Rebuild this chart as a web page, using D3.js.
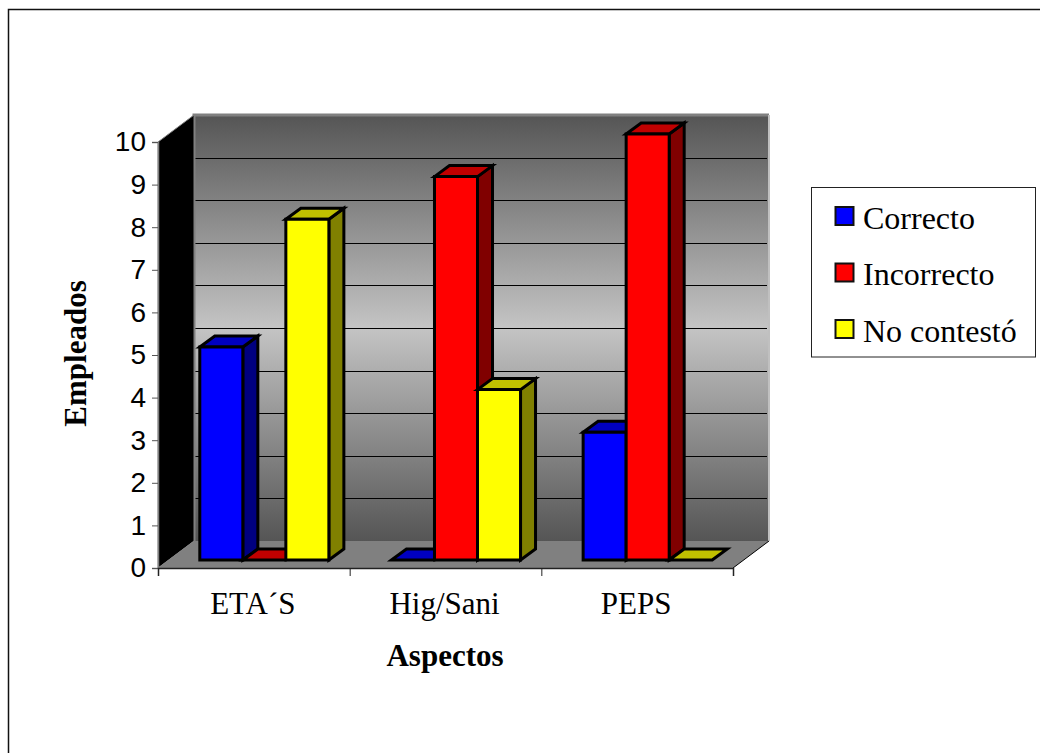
<!doctype html>
<html>
  <head>
    <meta charset="utf-8">
    <title>Aspectos</title>
    <script src="https://d3js.org/d3.v7.min.js"></script>
    <style>
      html, body { margin: 0; padding: 0; background: #fff; }
      svg { display: block; }
      .serif { font-family: "Liberation Serif", serif; fill: #000; }
      .tick text { font-family: "Liberation Sans", sans-serif; font-size: 28px; fill: #000; }
    </style>
  </head>
  <body>
    <script>
      const categories = ['ETA´S', 'Hig/Sani', 'PEPS'];
      const seriesNames = ['Correcto', 'Incorrecto', 'No contestó'];
      const correcto = [5, 0, 3];
      const incorrecto = [0, 9, 10];
      const noContesto = [8, 4, 0];
      const yTicks = [0, 1, 2, 3, 4, 5, 6, 7, 8, 9, 10];

      const seriesValues = [correcto, incorrecto, noContesto];
      // front, top, side
      const colors = [
        ['#0000ff', '#0000c0', '#000080'],
        ['#ff0000', '#c00000', '#800000'],
        ['#ffff00', '#c0c000', '#808000']
      ];

      const svgWidth = 1040;
      const svgHeight = 753;

      const svg = d3.select('body').append('svg')
          .attr('width', svgWidth)
          .attr('height', svgHeight);

      // marco exterior
      svg.append('path')
          .attr('d', `M8.5,${svgHeight} V9.5 H${svgWidth}`)
          .attr('fill', 'none')
          .attr('stroke', '#111')
          .attr('stroke-width', 1.5);

      const x0 = d3.scaleBand().domain(d3.range(categories.length)).range([158, 733]);
      const y = d3.scaleLinear().domain([0, 10]).range([568, 142]);
      const xInner = d3.scaleBand().domain(d3.range(seriesNames.length))
          .range([31.3, x0.bandwidth() - 31.3]);

      // profundidad del 3D
      const wallDx = 36, wallDy = -27;
      const barOffX = 10.5, barOffY = -8;
      const barDx = 15, barDy = -11;

      const defs = svg.append('defs');
      const grad = defs.append('linearGradient')
          .attr('id', 'wall')
          .attr('x1', 0).attr('y1', 0).attr('x2', 0).attr('y2', 1);
      grad.append('stop').attr('offset', '0%').attr('stop-color', '#555555');
      grad.append('stop').attr('offset', '50%').attr('stop-color', '#c4c4c4');
      grad.append('stop').attr('offset', '100%').attr('stop-color', '#555555');

      const poly = pts => 'M' + pts.map(p => p.join(',')).join('L') + 'Z';
      const left = x0.range()[0], right = x0.range()[1];
      const y0 = y(0), y10 = y(10);

      // pared de fondo
      svg.append('rect')
          .attr('x', left + wallDx)
          .attr('y', y10 + wallDy)
          .attr('width', right - left)
          .attr('height', y0 - y10)
          .attr('fill', 'url(#wall)');

      // rejilla
      svg.append('g').selectAll('line')
        .data(yTicks.slice(1, -1))
        .enter().append('line')
          .attr('x1', left + wallDx)
          .attr('x2', right + wallDx - 2)
          .attr('y1', d => Math.round(y(d) + wallDy) + 0.5)
          .attr('y2', d => Math.round(y(d) + wallDy) + 0.5)
          .attr('stroke', '#000')
          .attr('stroke-width', 1);

      // bordes de la pared
      svg.append('path')
          .attr('d', `M${left + wallDx},${y0 + wallDy} V${y10 + wallDy} H${right + wallDx}`)
          .attr('fill', 'none')
          .attr('stroke', '#808080')
          .attr('stroke-width', 3);
      svg.append('path')
          .attr('d', `M${right + wallDx},${y10 + wallDy} V${y0 + wallDy}`)
          .attr('fill', 'none')
          .attr('stroke', '#c0c0c0')
          .attr('stroke-width', 2);

      // pared lateral
      svg.append('path')
          .attr('d', poly([[left, y10], [left + wallDx, y10 + wallDy], [left + wallDx, y0 + wallDy], [left, y0]]))
          .attr('fill', '#000')
          .attr('stroke', '#808080')
          .attr('stroke-width', 1);

      // suelo
      svg.append('path')
          .attr('d', poly([[left, y0], [right, y0], [right + wallDx, y0 + wallDy], [left + wallDx, y0 + wallDy]]))
          .attr('fill', '#808080');
      svg.append('line')
          .attr('x1', right).attr('y1', y0)
          .attr('x2', right + wallDx).attr('y2', y0 + wallDy)
          .attr('stroke', '#000');

      // barras
      const bars = svg.append('g')
          .attr('stroke', '#000')
          .attr('stroke-width', 3)
          .attr('stroke-linejoin', 'miter');

      categories.forEach((c, i) => {
        seriesValues.forEach((vals, s) => {
          const xa = x0(i) + xInner(s) + barOffX;
          const xb = xa + xInner.bandwidth();
          const yb = y(0) + barOffY;
          const yt = y(vals[i]) + barOffY;
          const col = colors[s];
          const g = bars.append('g');
          if (vals[i] > 0) {
            g.append('path')
                .attr('d', poly([[xb, yt], [xb + barDx, yt + barDy], [xb + barDx, yb + barDy], [xb, yb]]))
                .attr('fill', col[2]);
          }
          g.append('path')
              .attr('d', poly([[xa, yt], [xa + barDx, yt + barDy], [xb + barDx, yt + barDy], [xb, yt]]))
              .attr('fill', col[1]);
          if (vals[i] > 0) {
            g.append('path')
                .attr('d', poly([[xa, yt], [xb, yt], [xb, yb], [xa, yb]]))
                .attr('fill', col[0]);
          }
        });
      });

      // ejes
      const yAxis = svg.append('g')
          .attr('transform', `translate(${left},0)`)
          .call(d3.axisLeft(y).tickValues(yTicks).tickSize(6).tickPadding(6).tickFormat(d3.format('d')));
      yAxis.select('.domain').attr('stroke', '#808080').attr('stroke-width', 1.5);
      yAxis.selectAll('.tick line').attr('stroke', '#555');

      const xEdges = d3.scaleLinear().domain([0, categories.length]).range([left, right]);
      const xAxis = svg.append('g')
          .attr('transform', `translate(0,${y0})`)
          .call(d3.axisBottom(xEdges).tickValues(d3.range(categories.length + 1)).tickSize(8).tickFormat(''));
      xAxis.select('.domain').attr('stroke', '#222').attr('stroke-width', 1.5);
      xAxis.selectAll('.tick line').attr('stroke', '#222');

      svg.append('g').selectAll('text')
        .data(categories)
        .enter().append('text')
          .attr('class', 'serif')
          .attr('x', (d, i) => x0(i) + x0.bandwidth() / 2 - 1)
          .attr('y', 614)
          .attr('text-anchor', 'middle')
          .attr('font-size', 31)
          .text(d => d);

      svg.append('text')
          .attr('class', 'serif')
          .attr('x', 445)
          .attr('y', 666)
          .attr('text-anchor', 'middle')
          .attr('font-size', 31)
          .attr('font-weight', 'bold')
          .text('Aspectos');

      svg.append('text')
          .attr('class', 'serif')
          .attr('transform', 'translate(86,353.5) rotate(-90)')
          .attr('text-anchor', 'middle')
          .attr('font-size', 31)
          .attr('font-weight', 'bold')
          .text('Empleados');

      // leyenda
      const legend = svg.append('g');
      legend.append('rect')
          .attr('x', 811.5).attr('y', 187.5)
          .attr('width', 224).attr('height', 169.5)
          .attr('fill', '#fff')
          .attr('stroke', '#222')
          .attr('stroke-width', 1);
      const legendRow = d3.scalePoint().domain(seriesNames).range([216, 329]);
      const rows = legend.selectAll('g')
        .data(seriesNames)
        .enter().append('g')
          .attr('transform', d => `translate(0,${legendRow(d)})`);
      rows.append('rect')
          .attr('x', 835.5).attr('y', -9)
          .attr('width', 18).attr('height', 18)
          .attr('fill', (d, i) => colors[i][0])
          .attr('stroke', '#111')
          .attr('stroke-width', 2);
      rows.append('text')
          .attr('class', 'serif')
          .attr('x', 863)
          .attr('y', 12.5)
          .attr('font-size', 32)
          .text(d => d);
    </script>
  </body>
</html>
